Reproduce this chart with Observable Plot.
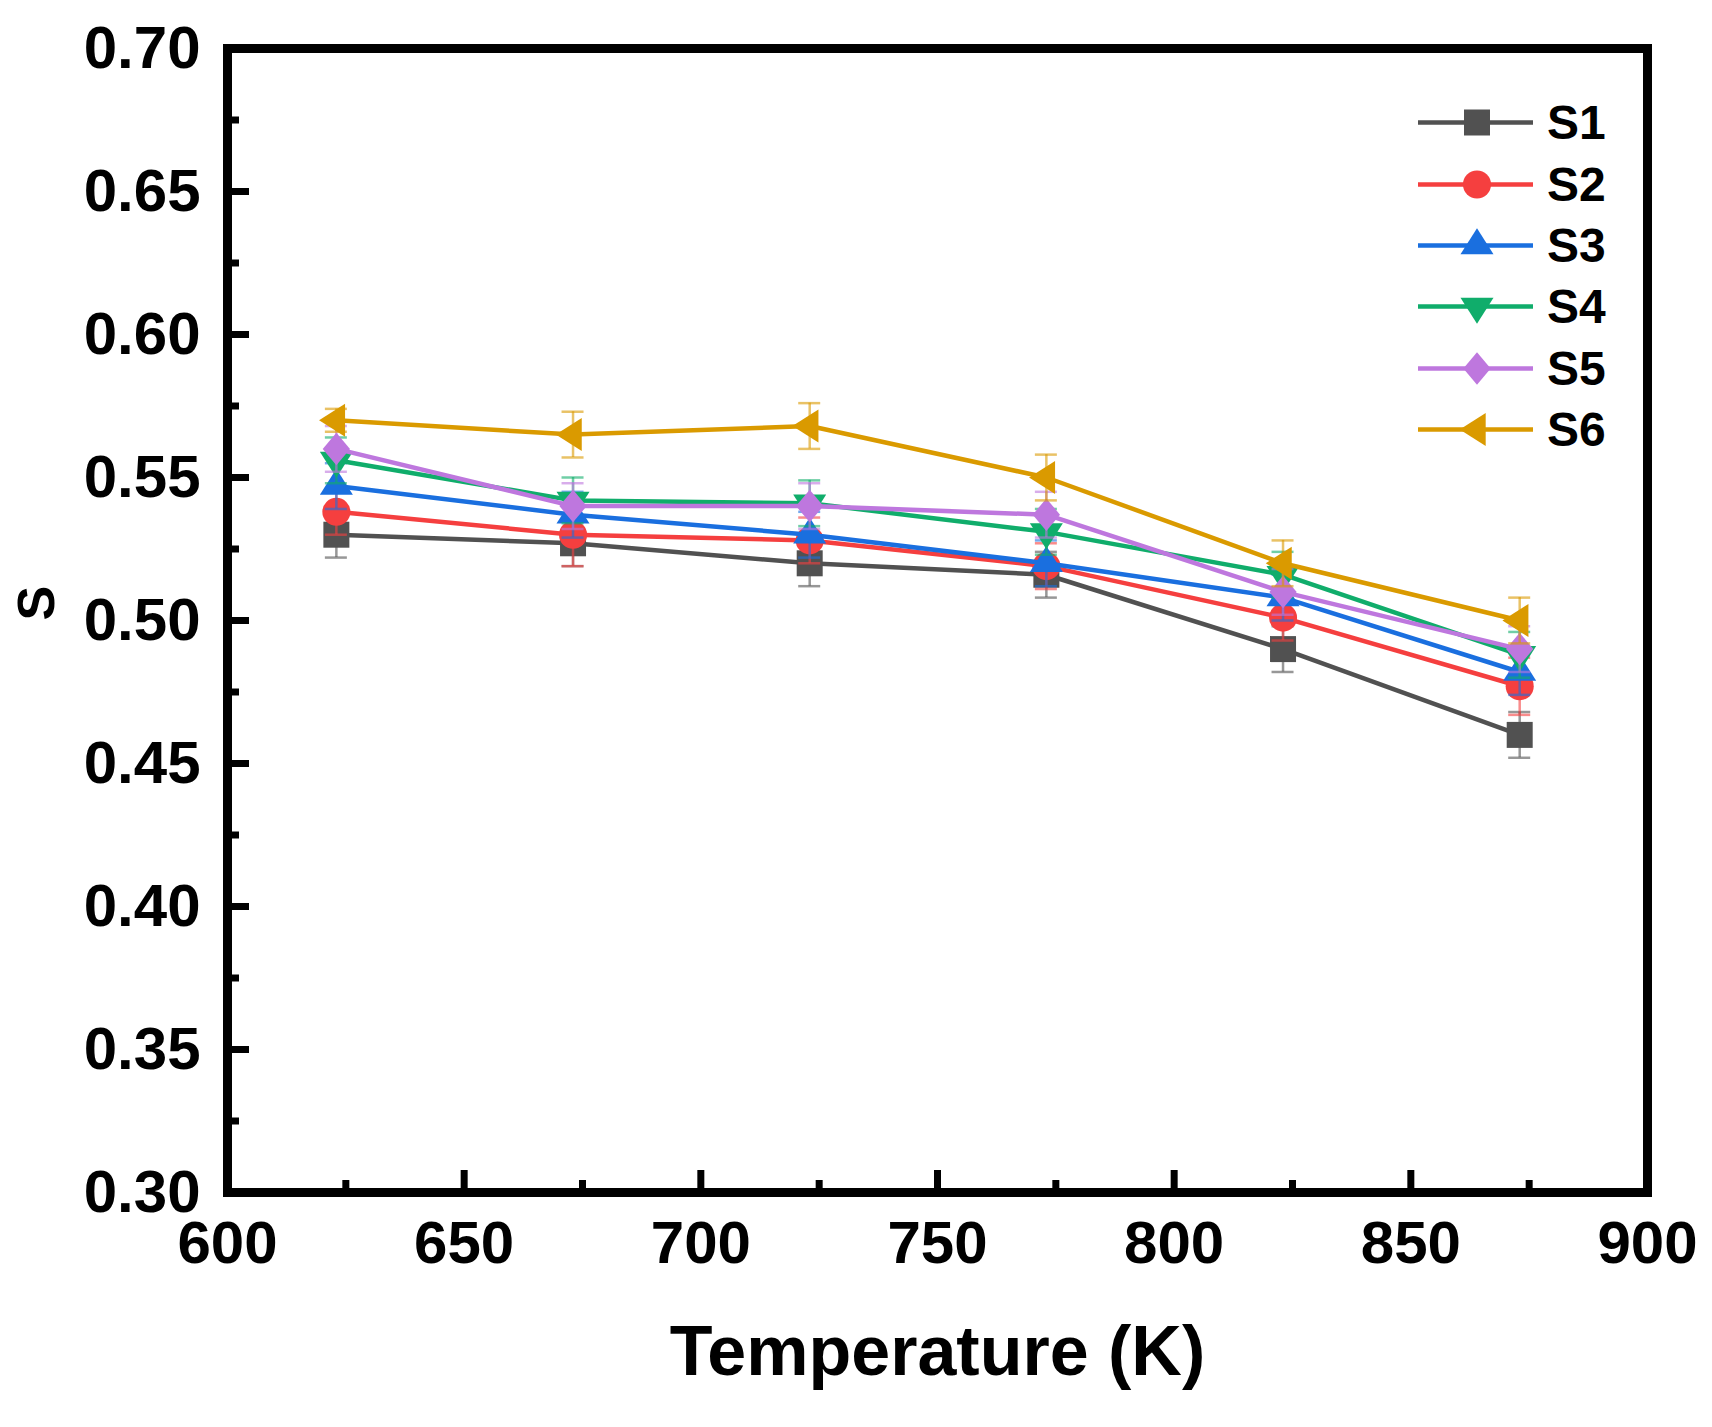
<!DOCTYPE html>
<html>
<head>
<meta charset="utf-8">
<script src="https://cdn.jsdelivr.net/npm/d3@7"></script>
<script src="https://cdn.jsdelivr.net/npm/@observablehq/plot@0.6"></script>
<style>
  html, body { margin: 0; padding: 0; background: #fff; }
  #wrap { position: relative; width: 1712px; height: 1427px; }
  #legend { position: absolute; left: 1418px; top: 92px;
    font-family: "Liberation Sans", Arial, sans-serif; font-weight: bold; font-size: 48px; color: #000; }
  .row { height: 61.4px; display: flex; align-items: center; }
  .row svg { display: block; }
</style>
</head>
<body>
<div id="wrap"><div id="legend"></div></div>
<script>
// ---- data ----
const temperatures = [623, 673, 723, 773, 823, 873];
const seriesNames = ["S1", "S2", "S3", "S4", "S5", "S6"];
const colors = ["#515151", "#F53F3F", "#1A6FDF", "#10AD6B", "#BE77DE", "#DA9A00"];
const s1 = [0.530, 0.527, 0.520, 0.516, 0.490, 0.460];
const s2 = [0.538, 0.530, 0.528, 0.519, 0.501, 0.477];
const s3 = [0.547, 0.537, 0.530, 0.520, 0.508, 0.482];
const s4 = [0.556, 0.542, 0.541, 0.531, 0.516, 0.488];
const s5 = [0.560, 0.540, 0.540, 0.537, 0.510, 0.490];
const s6 = [0.570, 0.565, 0.568, 0.550, 0.520, 0.500];
const e1 = [0.008, 0.008, 0.008, 0.008, 0.008, 0.008];
const e2 = [0.008, 0.011, 0.008, 0.008, 0.008, 0.010];
const e3 = [0.008, 0.008, 0.008, 0.008, 0.008, 0.008];
const e4 = [0.008, 0.008, 0.008, 0.008, 0.008, 0.008];
const e5 = [0.008, 0.008, 0.008, 0.008, 0.008, 0.008];
const e6 = [0.004, 0.008, 0.008, 0.008, 0.008, 0.008];
const xTicks = [600, 650, 700, 750, 800, 850, 900];
const xMinor = [625, 675, 725, 775, 825, 875];
const yTicks = [0.30, 0.35, 0.40, 0.45, 0.50, 0.55, 0.60, 0.65, 0.70];
const yMinor = [0.325, 0.375, 0.425, 0.475, 0.525, 0.575, 0.625, 0.675];
const xLabel = "Temperature (K)";
const yLabel = "S";

const values = [s1, s2, s3, s4, s5, s6];
const errors = [e1, e2, e3, e4, e5, e6];

// ---- layout ----
const W = 1712, H = 1427, ML = 227, MR = 65, MT = 48, MB = 235;
const PW = W - ML - MR, PH = H - MT - MB;
const majorLen = 22, minorLen = 12, tickW = 7;

// ---- symbols ----
const poly = pts => ({ draw(ctx, size) {
  const h = Math.sqrt(size / Math.PI);
  ctx.moveTo(pts[0][0] * h, pts[0][1] * h);
  for (const p of pts.slice(1)) ctx.lineTo(p[0] * h, p[1] * h);
  ctx.closePath();
}});
const symSquare = poly([[-1, -1], [1, -1], [1, 1], [-1, 1]]);
const symCircle = { draw(ctx, size) { const r = Math.sqrt(size / Math.PI) * 1.08; ctx.moveTo(r, 0); ctx.arc(0, 0, r, 0, 2 * Math.PI); } };
const symTriUp = poly([[0, -1.33], [1.27, 0.67], [-1.27, 0.67]]);
const symTriDown = poly([[0, 1.33], [1.27, -0.67], [-1.27, -0.67]]);
const symDiamond = poly([[0, -1.25], [1.05, 0], [0, 1.25], [-1.05, 0]]);
const symTriLeft = poly([[-1.33, 0], [0.67, -1.27], [0.67, 1.27]]);
const symbols = [symSquare, symCircle, symTriUp, symTriDown, symDiamond, symTriLeft];
const R = 13;

// ---- table ----
const data = [];
seriesNames.forEach((name, i) => temperatures.forEach((t, j) =>
  data.push({ series: name, T: t, S: values[i][j], err: errors[i][j] })));

const marks = [];
seriesNames.forEach((name, i) => {
  const d = data.filter(r => r.series === name);
  const ebStyle = { stroke: colors[i], strokeOpacity: 0.6, strokeWidth: 2.5 };
  marks.push(Plot.ruleX(d, { x: "T", y1: r => r.S - r.err, y2: r => r.S + r.err, ...ebStyle }));
  marks.push(Plot.ruleY(d, { y: r => r.S + r.err, x1: "T", x2: "T", insetLeft: -11, insetRight: -11, ...ebStyle }));
  marks.push(Plot.ruleY(d, { y: r => r.S - r.err, x1: "T", x2: "T", insetLeft: -11, insetRight: -11, ...ebStyle }));
  marks.push(Plot.line(d, { x: "T", y: "S", stroke: colors[i], strokeWidth: 4.5 }));
  marks.push(Plot.dot(d, { x: "T", y: "S", symbol: symbols[i], r: R, fill: colors[i], stroke: "none" }));
});

const chart = Plot.plot({
  width: W,
  height: H,
  marginLeft: ML,
  marginRight: MR,
  marginTop: MT,
  marginBottom: MB,
  style: { fontFamily: "'Liberation Sans', Arial, sans-serif", fontWeight: "bold", background: "#fff", color: "#000" },
  x: { domain: [600, 900] },
  y: { domain: [0.30, 0.70] },
  marks: [
    ...marks,
    Plot.axisX({ ticks: xTicks, tickSize: 0, tickPadding: 28, fontSize: 60, tickFormat: d3.format("d"), label: null }),
    Plot.axisY({ ticks: yTicks, tickSize: 0, tickPadding: 27, fontSize: 60, tickFormat: d3.format(".2f"), label: null }),
    // inward ticks
    Plot.ruleX(xTicks, { x: d => d, insetTop: PH - majorLen, stroke: "#000", strokeWidth: tickW }),
    Plot.ruleX(xMinor, { x: d => d, insetTop: PH - minorLen, stroke: "#000", strokeWidth: tickW }),
    Plot.ruleY(yTicks, { y: d => d, insetRight: PW - majorLen, stroke: "#000", strokeWidth: tickW }),
    Plot.ruleY(yMinor, { y: d => d, insetRight: PW - minorLen, stroke: "#000", strokeWidth: tickW }),
    Plot.frame({ stroke: "#000", strokeWidth: 9 }),
    Plot.text([xLabel], { text: d => d, frameAnchor: "bottom", dy: 160, fontSize: 70, fontWeight: "bold", lineAnchor: "middle" }),
    Plot.text([yLabel], { text: d => d, frameAnchor: "left", dx: -190, rotate: -90, fontSize: 52, fontWeight: "bold", lineAnchor: "middle" })
  ]
});
const wrap = document.getElementById("wrap");
wrap.insertBefore(chart, wrap.firstChild);

// ---- legend ----
const legend = d3.select("#legend");
seriesNames.forEach((name, i) => {
  const row = legend.append("div").attr("class", "row");
  const svg = row.append("svg").attr("width", 129).attr("height", 61);
  svg.append("line").attr("x1", 0).attr("x2", 115).attr("y1", 30.5).attr("y2", 30.5)
    .attr("stroke", colors[i]).attr("stroke-width", 4.5);
  svg.append("path").attr("transform", "translate(59,30.5)")
    .attr("d", d3.symbol().type(symbols[i]).size(Math.PI * R * R)())
    .attr("fill", colors[i]);
  row.append("span").text(name);
});
</script>
</body>
</html>
